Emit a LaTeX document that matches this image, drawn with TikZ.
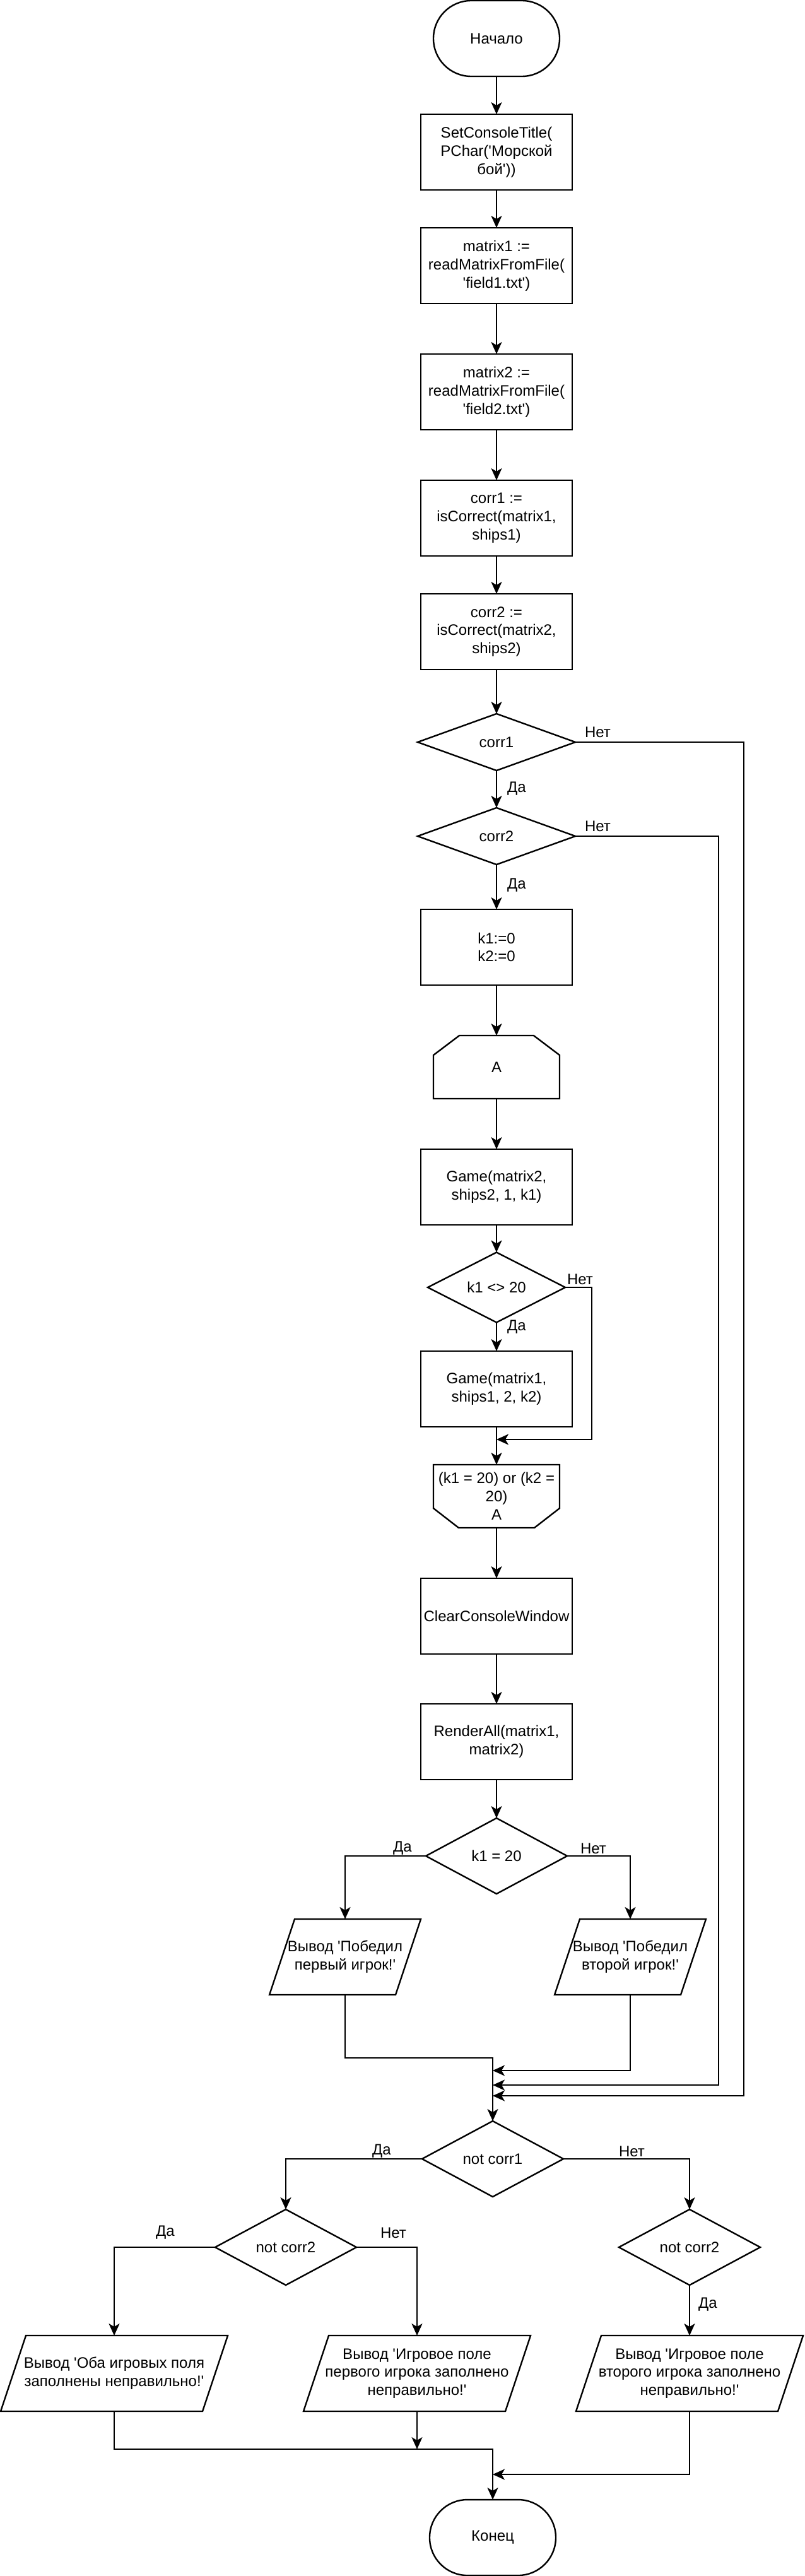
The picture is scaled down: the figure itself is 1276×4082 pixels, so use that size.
\documentclass[tikz,border=0pt]{standalone}
\usepackage{fontspec}
\newfontfamily\mainf{Liberation Sans}
\usetikzlibrary{shapes.geometric,arrows.meta}
\begin{document}
\begin{tikzpicture}[x=1pt,y=-1pt,
  font={\mainf\fontsize{24}{28.8}\selectfont},
  line width=2.4pt,
  every node/.style={outer sep=0pt},
  proc/.style={draw, rectangle, minimum width=240pt, minimum height=120pt, inner sep=0pt, align=center},
  term/.style={draw, rectangle, rounded corners=59.9pt, minimum width=200pt, minimum height=120pt, inner sep=0pt},
  dec/.style={draw, diamond, inner sep=0pt, align=center},
  frame/.style={rectangle, inner sep=0pt, align=center},
  lbl/.style={anchor=west, inner sep=0pt},
  arr/.style={-{Stealth[length=19pt,width=17pt,inset=5pt]}},
  thinarr/.style={line width=1.4pt, -{Stealth[length=19pt,width=17pt,inset=5pt]}},
]
\useasboundingbox (0,0) rectangle (1276,4082);

% ---- main column (top part)
\node[term] (start) at (787,61) {Начало};
\node[proc] (b1) at (787,241) {SetConsoleTitle(\\PChar('Морской\\бой'))};
\node[proc] (b2) at (787,421) {matrix1 :=\\readMatrixFromFile(\\'field1.txt')};
\node[proc] (b3) at (787,621) {matrix2 :=\\readMatrixFromFile(\\'field2.txt')};
\node[proc] (b4) at (787,821) {corr1 :=\\isCorrect(matrix1,\\ships1)};
\node[proc] (b5) at (787,1001) {corr2 :=\\isCorrect(matrix2,\\ships2)};
\node[dec, minimum width=250pt, minimum height=90pt] (d1) at (787,1176) {corr1};
\node[dec, minimum width=250pt, minimum height=90pt] (d2) at (787,1325) {corr2};
\node[proc] (b6) at (787,1501) {k1:=0\\k2:=0};
\node[frame, minimum width=200pt, minimum height=100pt] (ca) at (787,1691) {A};
\draw ([xshift=41pt]ca.north west) -- ([xshift=-41pt]ca.north east) -- ([yshift=-31pt]ca.north east)
      -- (ca.south east) -- (ca.south west) -- ([yshift=-31pt]ca.north west) -- cycle;
\node[proc] (b7) at (787,1881) {Game(matrix2,\\ships2, 1, k1)};
\node[dec, minimum width=218pt, minimum height=81pt] (d3) at (787,2040) {k1 <> 20};
\node[proc] (b8) at (787,2201) {Game(matrix1,\\ships1, 2, k2)};
\node[frame, minimum width=200pt, minimum height=100pt] (cb) at (787,2371) {(k1 = 20) or (k2 =\\20)\\A};
\draw (cb.north west) -- (cb.north east) -- ([yshift=31pt]cb.south east) -- ([xshift=-40pt]cb.south east)
      -- ([xshift=40pt]cb.south west) -- ([yshift=31pt]cb.south west) -- cycle;
\node[proc] (b9) at (787,2561) {ClearConsoleWindow};
\node[proc] (b10) at (787,2760) {RenderAll(matrix1,\\matrix2)};
\node[dec, minimum width=224pt, minimum height=120pt] (d4) at (787,2941) {k1 = 20};

% ---- winner outputs
\node[frame, minimum width=240pt, minimum height=120pt] (pl) at (547,3101) {Вывод 'Победил\\первый игрок!'};
\draw ([xshift=40pt]pl.north west) -- (pl.north east) -- ([xshift=-40pt]pl.south east) -- (pl.south west) -- cycle;
\node[frame, minimum width=240pt, minimum height=120pt] (pr) at (999,3101) {Вывод 'Победил\\второй игрок!'};
\draw ([xshift=40pt]pr.north west) -- (pr.north east) -- ([xshift=-40pt]pr.south east) -- (pr.south west) -- cycle;

% ---- bottom part
\node[dec, minimum width=224pt, minimum height=120pt] (d5) at (781,3421) {not corr1};
\node[dec, minimum width=224pt, minimum height=120pt] (d6) at (453,3561) {not corr2};
\node[dec, minimum width=224pt, minimum height=120pt] (d7) at (1093,3561) {not corr2};
\node[frame, minimum width=360pt, minimum height=120pt] (q1) at (181,3761) {Вывод 'Оба игровых поля\\заполнены неправильно!'};
\draw ([xshift=40pt]q1.north west) -- (q1.north east) -- ([xshift=-40pt]q1.south east) -- (q1.south west) -- cycle;
\node[frame, minimum width=360pt, minimum height=120pt] (q2) at (661,3761) {Вывод 'Игровое поле\\первого игрока заполнено\\неправильно!'};
\draw ([xshift=40pt]q2.north west) -- (q2.north east) -- ([xshift=-40pt]q2.south east) -- (q2.south west) -- cycle;
\node[frame, minimum width=360pt, minimum height=120pt] (q3) at (1093,3761) {Вывод 'Игровое поле\\второго игрока заполнено\\неправильно!'};
\draw ([xshift=40pt]q3.north west) -- (q3.north east) -- ([xshift=-40pt]q3.south east) -- (q3.south west) -- cycle;
\node[term] (end) at (781,4021) {Конец};

% ---- helper coordinates
\coordinate (c1) at (1179,3321);
\coordinate (j1) at (781,3321);
\coordinate (c2) at (1139,3304);
\coordinate (j2) at (781,3304);
\coordinate (c3) at (938,2281);
\coordinate (j3) at (787,2281);
\coordinate (m1) at (781,3261);
\coordinate (m2) at (781,3281);
\coordinate (m3) at (781,3881);
\coordinate (m4) at (781,3921);

% ---- connectors
\draw[arr] (start) -- (b1);
\draw[arr] (b1) -- (b2);
\draw[arr] (b2) -- (b3);
\draw[arr] (b3) -- (b4);
\draw[arr] (b4) -- (b5);
\draw[arr] (b5) -- (d1);
\draw[arr] (d1) -- (d2);
\draw[arr] (d2) -- (b6);
\draw[arr] (b6) -- (ca.north);
\draw[arr] (ca.south) -- (b7);
\draw[arr] (b7) -- (d3);
\draw[arr] (d3) -- (b8);
\draw[arr] (b8) -- (cb.north);
\draw[arr] (d3.east) -| (c3) -- (j3);
\draw[arr] (cb.south) -- (b9);
\draw[arr] (b9) -- (b10);
\draw[arr] (b10) -- (d4);
\draw[arr] (d4.west) -| (pl.north);
\draw[arr] (d4.east) -| (pr.north);
\draw[arr] (pl.south) |- (m1) -- (d5.north);
\draw[arr] (pr.south) |- (m2);
\draw[arr] (d2.east) -| (c2) -- (j2);
\draw[arr] (d1.east) -| (c1) -- (j1);
\draw[arr] (d5.west) -| (d6.north);
\draw[arr] (d5.east) -| (d7.north);
\draw[arr] (d6.west) -| (q1.north);
\draw[arr] (d6.east) -| (q2.north);
\draw[arr] (d7.south) -- (q3.north);
\draw[arr] (q1.south) |- (m3) -- (end.north);
\draw[thinarr] (q2.south) -- (q2.south |- m3);
\draw[arr] (q3.south) |- (m4);

% ---- labels
\node[lbl] (l1) at (927,1160) {Нет};
\node[lbl] (l2) at (804,1250) {Да};
\node[lbl] (l3) at (927,1309) {Нет};
\node[lbl] (l4) at (804,1403) {Да};
\node[lbl] (l5) at (899,2027) {Нет};
\node[lbl] (l6) at (804,2103) {Да};
\node[lbl] (l7) at (623,2929) {Да};
\node[lbl] (l8) at (920,2929) {Нет};
\node[lbl] (l9) at (590,3409) {Да};
\node[lbl] (l10) at (981,3409) {Нет};
\node[lbl] (l11) at (247,3538) {Да};
\node[lbl] (l12) at (603,3538) {Нет};
\node[lbl] (l13) at (1107,3652) {Да};
\end{tikzpicture}
\end{document}
